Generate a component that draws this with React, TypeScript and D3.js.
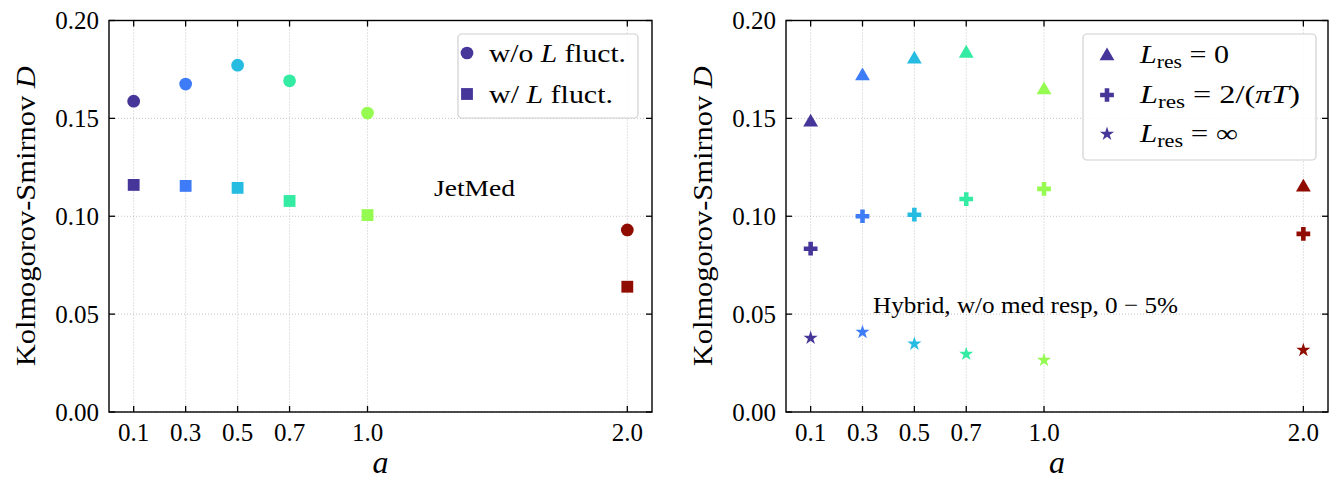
import React from "react";
import * as d3 from "d3";

// Scanned values of the parameter a
const aValues = [0.1, 0.3, 0.5, 0.7, 1.0, 2.0];
const xTickLabels = ["0.1", "0.3", "0.5", "0.7", "1.0", "2.0"];
const yTicks = [0, 0.05, 0.1, 0.15, 0.2];

// JetMed: Kolmogorov-Smirnov distance
const jetmedNoFluct = [0.1588, 0.1675, 0.1772, 0.1692, 0.1527, 0.0930];
const jetmedFluct = [0.1160, 0.1155, 0.1145, 0.1078, 0.1006, 0.0640];

// Hybrid, w/o medium response, 0-5%
const hybridLres0 = [0.1480, 0.1716, 0.1802, 0.1832, 0.1645, 0.1148];
const hybridLresT = [0.0834, 0.1000, 0.1008, 0.1088, 0.1140, 0.0910];
const hybridLresInf = [0.0378, 0.0408, 0.0348, 0.0296, 0.0265, 0.0316];

const W = 1343;
const H = 481;
const FONT = "'Liberation Serif', 'DejaVu Serif', serif";
const top = 20.5;
const bottom = 412;

const colorOf = (a: number) => d3.interpolateTurbo(a / 2);

type Panel = {
  left: number;
  right: number;
};

const panels: Panel[] = [
  { left: 109, right: 652 },
  { left: 786, right: 1328 },
];

function Axes({ p, children }: { p: Panel; children: (x: any, y: any) => React.ReactNode }) {
  const x = d3.scaleLinear().domain([0.005, 2.095]).range([p.left, p.right]);
  const y = d3.scaleLinear().domain([0, 0.2]).range([bottom, top]);
  const tickLen = 6;
  return (
    <g>
      {/* grid */}
      {aValues.map((a, i) => (
        <line key={"gx" + i} x1={x(a)} x2={x(a)} y1={top} y2={bottom} stroke="#b8b8b8" strokeWidth={0.8} strokeDasharray="1,2" />
      ))}
      {yTicks.map((v, i) => (
        <line key={"gy" + i} x1={p.left} x2={p.right} y1={y(v)} y2={y(v)} stroke="#b8b8b8" strokeWidth={0.8} strokeDasharray="1,2" />
      ))}
      {children(x, y)}
      {/* ticks, inward on all sides */}
      {aValues.map((a, i) => (
        <g key={"tx" + i}>
          <line x1={x(a)} x2={x(a)} y1={bottom} y2={bottom - tickLen} stroke="#000" strokeWidth={1.3} />
          <line x1={x(a)} x2={x(a)} y1={top} y2={top + tickLen} stroke="#000" strokeWidth={1.3} />
          <text x={x(a)} y={441} textAnchor="middle" fontSize={25} fontFamily={FONT}>
            {xTickLabels[i]}
          </text>
        </g>
      ))}
      {yTicks.map((v, i) => (
        <g key={"ty" + i}>
          <line x1={p.left} x2={p.left + tickLen} y1={y(v)} y2={y(v)} stroke="#000" strokeWidth={1.3} />
          <line x1={p.right} x2={p.right - tickLen} y1={y(v)} y2={y(v)} stroke="#000" strokeWidth={1.3} />
          <text x={p.left - 10} y={y(v)} dy="0.34em" textAnchor="end" fontSize={25} fontFamily={FONT}>
            {d3.format(".2f")(v)}
          </text>
        </g>
      ))}
      <rect x={p.left} y={top} width={p.right - p.left} height={bottom - top} fill="none" stroke="#000" strokeWidth={1.4} />
      {/* axis labels */}
      <text x={(p.left + p.right) / 2} y={473} textAnchor="middle" fontSize={32} fontStyle="italic" fontFamily={FONT}>
        a
      </text>
      <text
        transform={`translate(${p.left - 74},${(top + bottom) / 2}) rotate(-90)`}
        textAnchor="middle"
        fontSize={27}
        fontFamily={FONT}
        textLength={300}
        lengthAdjust="spacingAndGlyphs"
      >
        Kolmogorov-Smirnov <tspan fontStyle="italic">D</tspan>
      </text>
    </g>
  );
}

const sym = (type: d3.SymbolType, size: number) => d3.symbol().type(type).size(size)() as string;

const circlePath = sym(d3.symbolCircle, 127);
const squarePath = sym(d3.symbolSquare, 140);
const trianglePath = sym(d3.symbolTriangle, 95);
const crossPath = sym(d3.symbolCross, 105);
const starPath = sym(d3.symbolStar, 62);

function LresLabel({ x, y, rest, len }: { x: number; y: number; rest: React.ReactNode; len: number }) {
  return (
    <text x={x} y={y} textLength={len} lengthAdjust="spacingAndGlyphs">
      <tspan fontStyle="italic">L</tspan>
      <tspan fontSize={18} dy={5}>res</tspan>
      <tspan dy={-5}>{rest}</tspan>
    </text>
  );
}

export default function App() {
  const [pl, pr] = panels;
  return (
    <svg width={W} height={H} style={{ position: "absolute", left: 0, top: 0, background: "#fff" }}>
      <Axes p={pl}>
        {(x, y) => (
          <g>
            {aValues.map((a, i) => (
              <path key={"c" + i} d={circlePath} transform={`translate(${x(a)},${y(jetmedNoFluct[i])})`} fill={colorOf(a)} />
            ))}
            {aValues.map((a, i) => (
              <path key={"s" + i} d={squarePath} transform={`translate(${x(a)},${y(jetmedFluct[i])})`} fill={colorOf(a)} />
            ))}
            <text x={434} y={196} fontSize={24} fontFamily={FONT} textLength={81} lengthAdjust="spacingAndGlyphs">JetMed</text>
          </g>
        )}
      </Axes>
      <Axes p={pr}>
        {(x, y) => (
          <g>
            {aValues.map((a, i) => (
              <path key={"t" + i} d={trianglePath} transform={`translate(${x(a)},${y(hybridLres0[i])})`} fill={colorOf(a)} />
            ))}
            {aValues.map((a, i) => (
              <path key={"p" + i} d={crossPath} transform={`translate(${x(a)},${y(hybridLresT[i])})`} fill={colorOf(a)} />
            ))}
            {aValues.map((a, i) => (
              <path key={"r" + i} d={starPath} transform={`translate(${x(a)},${y(hybridLresInf[i])})`} fill={colorOf(a)} />
            ))}
            <text x={873} y={313} fontSize={24} fontFamily={FONT} textLength={305} lengthAdjust="spacingAndGlyphs">
              Hybrid, w/o med resp, 0 − 5%
            </text>
          </g>
        )}
      </Axes>

      {/* left legend */}
      <g fontFamily={FONT} fontSize={25}>
        <rect x={458} y={34} width={180} height={84} rx={4} fill="#fff" fillOpacity={0.85} stroke="#d0d0d0" strokeWidth={1.2} />
        <path d={circlePath} transform="translate(467,53)" fill={colorOf(0.1)} />
        <text x={489} y={62} textLength={137} lengthAdjust="spacingAndGlyphs">w/o <tspan fontStyle="italic">L</tspan> fluct.</text>
        <path d={squarePath} transform="translate(467,94)" fill={colorOf(0.1)} />
        <text x={489} y={103} textLength={124} lengthAdjust="spacingAndGlyphs">w/ <tspan fontStyle="italic">L</tspan> fluct.</text>
      </g>

      {/* right legend */}
      <g fontFamily={FONT} fontSize={25}>
        <rect x={1083} y={34} width={233} height={126} rx={4} fill="#fff" fillOpacity={0.85} stroke="#d0d0d0" strokeWidth={1.2} />
        <path d={trianglePath} transform="translate(1107,56)" fill={colorOf(0.1)} />
        <LresLabel x={1140} y={63} rest=" = 0" len={89} />
        <path d={crossPath} transform="translate(1107,95)" fill={colorOf(0.1)} />
        <LresLabel
          x={1140}
          y={103}
          rest={
            <>
              {" = 2/("}
              <tspan fontStyle="italic">πT</tspan>
              {")"}
            </>
          }
          len={160}
        />
        <path d={starPath} transform="translate(1107,134)" fill={colorOf(0.1)} />
        <LresLabel x={1140} y={142} rest=" = ∞" len={98} />
      </g>
    </svg>
  );
}
